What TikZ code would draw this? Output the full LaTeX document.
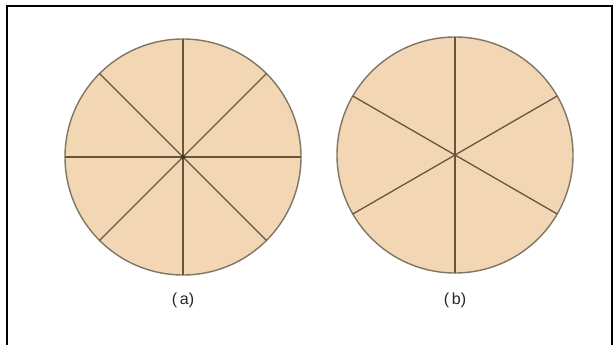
\documentclass[tikz,border=0pt]{standalone}
\usepackage{fontspec}
\setmainfont{Liberation Sans}
\definecolor{peach}{RGB}{243,214,180}
\definecolor{rimc}{RGB}{128,118,100}
\definecolor{spokec}{RGB}{105,85,60}
\begin{document}
\begin{tikzpicture}[x=1pt,y=-1pt,
  disc/.style={circle,draw=rimc,fill=peach,line width=1.4pt,minimum size=236pt,inner sep=0pt,outer sep=0pt},
  spoke/.style={draw=spokec,line width=1.3pt},
  caption/.style={font=\fontsize{16}{18}\selectfont,text=black!85}]
\useasboundingbox (0,0) rectangle (613,345);
\fill[white] (0,0) rectangle (613,345);
\draw[line width=2pt,black] (7,345) -- (7,6) -- (613,6);
\draw[line width=1.5pt,black] (612,6) -- (612,345);
\node[disc] (ca) at (183,157) {};
\node[disc] (cb) at (455,155) {};
\foreach \a in {0,45,90,135} {
  \draw[spoke] (ca.\a) -- (ca.\the\numexpr\a+180\relax);
}
\fill[spokec!60!black] (ca.center) circle (2.2pt);
\draw[spoke] (cb.north) -- (cb.south);
\draw[spoke] (cb.30) -- (cb.210);
\draw[spoke] (cb.150) -- (cb.330);
\node[caption] (la) at (183,300) {(\,a)};
\node[caption] (lb) at (455,300) {(\,b)};
\end{tikzpicture}
\end{document}
